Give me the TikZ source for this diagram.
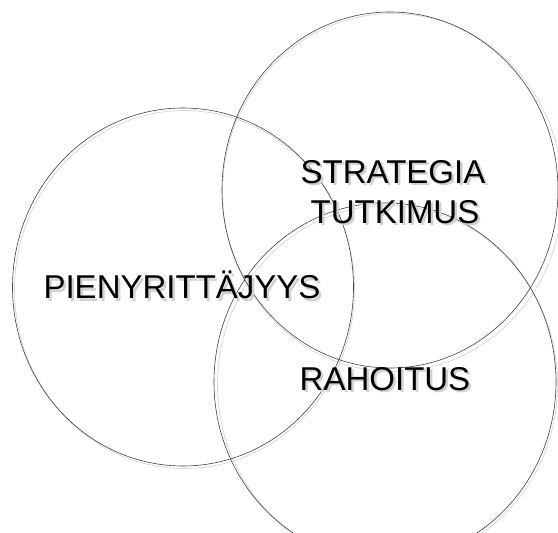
\documentclass[tikz,border=0pt]{standalone}
\usepackage{fontspec}
\setmainfont{Liberation Sans}
\usepackage{tikz}
\usetikzlibrary{calc}
\tikzset{
  ring/.style={draw=black!75, line width=0.6pt},
  ringshadow/.style={draw=black!15, line width=0.8pt},
  label/.style={font=\fontsize{33}{36}\selectfont, text=black, inner sep=0pt, align=center},
  labelshadow/.style={label, text=black!18}
}

\begin{document}
\begin{tikzpicture}[x=1pt,y=-1pt]
                \useasboundingbox (0,0) rectangle (558,533);

                %circle shadows
                \foreach \cx/\cy in {183/288, 391/191, 386/383}
                    \draw[ringshadow] (\cx+1.5,\cy+1.5) ellipse (170 and 179);

                %the three circles
                \draw[ring] (183,287) ellipse (170.5 and 179); % left
                \draw[ring] (390,190) ellipse (168 and 178); % top right
                \draw[ring] (385,382) ellipse (171 and 179); % bottom

                %text shadows
                \node[labelshadow] (pienshadow) at (184.5,287.5) {PIENYRITTÄJYYS};
                \node[labelshadow] (stratshadow) at (395.5,174.5) {STRATEGIA};
                \node[labelshadow] (tutkshadow) at (397.5,214.5) {TUTKIMUS};
                \node[labelshadow] (rahshadow) at (387.5,381.5) {RAHOITUS};

                %labels
                \node[label] (pien) at (182,285) {PIENYRITTÄJYYS};
                \node[label] (strat) at (393,172) {STRATEGIA};
                \node[label] (tutk) at (395,212) {TUTKIMUS};
                \node[label] (rah) at (385,379) {RAHOITUS};
\end{tikzpicture}
\end{document}
